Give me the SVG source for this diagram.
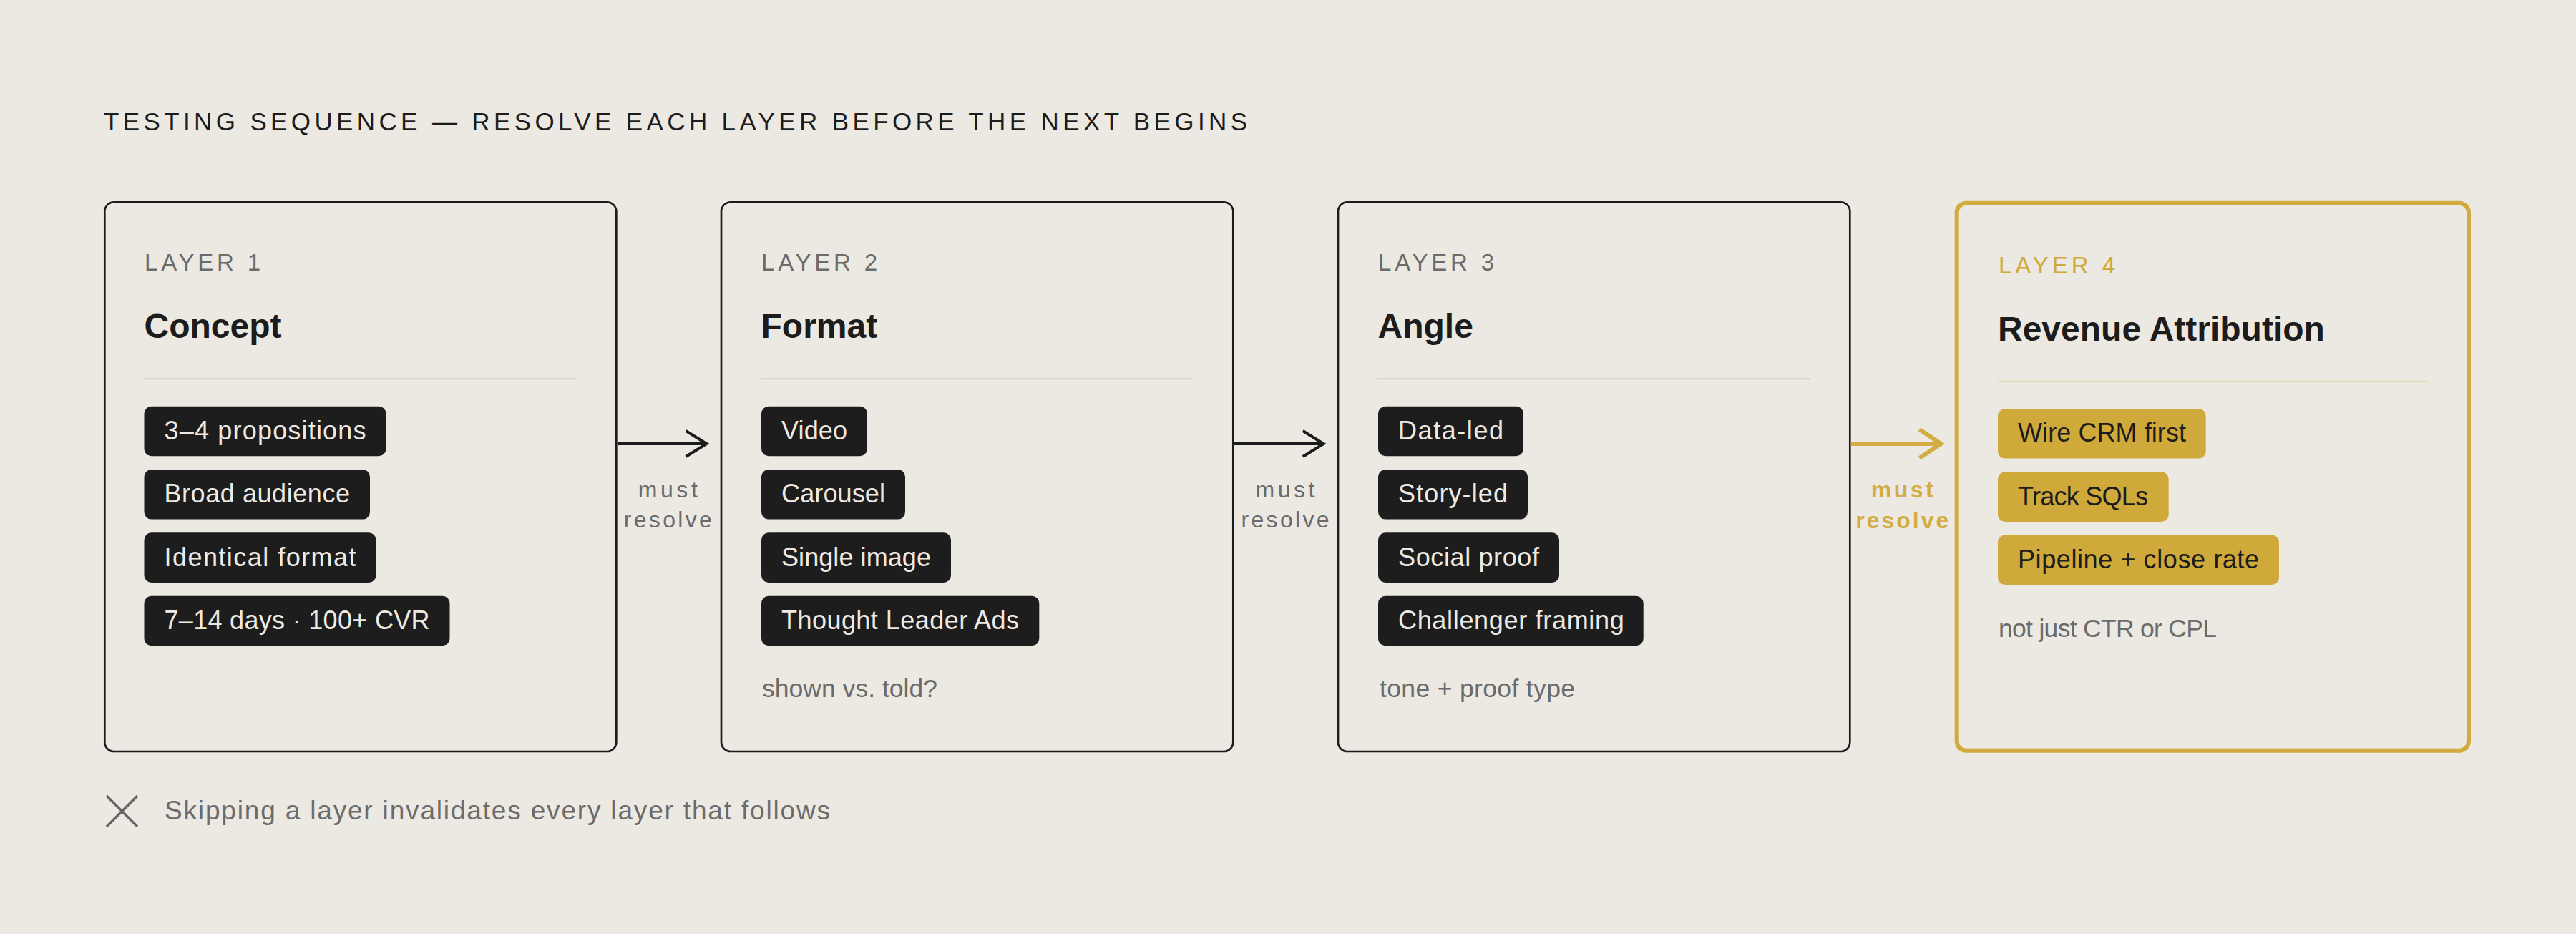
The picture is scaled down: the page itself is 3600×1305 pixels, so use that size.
<svg xmlns="http://www.w3.org/2000/svg" width="3600" height="1305" viewBox="0 0 3600 1305">
<style>
text { font-family: "Liberation Sans", Arial, sans-serif; }
.title { font-size: 35px; fill: #1C1C1C; }
.box { fill: none; stroke: #1C1C1C; stroke-width: 2.7; }
.box4 { fill: none; stroke: #D1AB3E; stroke-width: 6; }
.lbl { font-size: 33px; fill: #6B6B6B; }
.lbl4 { font-size: 33px; fill: #CFA93C; }
.h { font-size: 48px; font-weight: 700; fill: #1C1C1C; }
.div { stroke: #CFCBC3; stroke-width: 2; }
.div4 { stroke: #E4D5AA; stroke-width: 2; }
.chip { fill: #1D1D1D; }
.chipt { font-size: 36px; fill: #EEEAE3; }
.gchip { fill: #CFA93A; }
.gchipt { font-size: 36px; fill: #1C1C1C; }
.note { font-size: 35.5px; fill: #6B6B6B; }
.mr { font-size: 32px; fill: #6B6B6B; text-anchor: middle; }
.mr4 { font-size: 32px; fill: #D3AD44; font-weight: 700; text-anchor: middle; }
.conn { fill: none; stroke: #1C1C1C; stroke-width: 4; }
.conn4 { fill: none; stroke: #D3AD44; stroke-width: 6; }
.foot { font-size: 37px; fill: #6B6B6B; }
.x { stroke: #666666; stroke-width: 3.5; }
</style>
<defs>
<marker id="head" markerUnits="userSpaceOnUse" viewBox="-6 -6 44 48" markerWidth="44" markerHeight="48" refX="29" refY="18" orient="auto">
<path d="M0,0 L29,18 L0,36" fill="none" stroke="#1C1C1C" stroke-width="4"/>
</marker>
<marker id="head4" markerUnits="userSpaceOnUse" viewBox="-8 -8 50 56" markerWidth="50" markerHeight="56" refX="30" refY="20" orient="auto">
<path d="M0,0 L30,20 L0,40" fill="none" stroke="#D3AD44" stroke-width="6"/>
</marker>
</defs>
<rect x="0" y="0" width="3600" height="1305" fill="#ECE9E2"/>

<g id="title">
<text class="title" x="145" y="181.7" textLength="1598" lengthAdjust="spacing">TESTING SEQUENCE — RESOLVE EACH LAYER BEFORE THE NEXT BEGINS</text>
</g>

<g id="layer1">
<rect class="box" x="146.3" y="282.3" width="715" height="767.7" rx="13"/>
<text class="lbl" x="202" y="378.3" textLength="162" lengthAdjust="spacing">LAYER 1</text>
<text class="h" x="201.5" y="472">Concept</text>
<line class="div" x1="201" y1="529.3" x2="805" y2="529.3"/>
<rect class="chip" x="201.5" y="567.7" width="338" height="69.6" rx="10"/>
<text class="chipt" x="229.5" y="614" textLength="282" lengthAdjust="spacing">3–4 propositions</text>
<rect class="chip" x="201.5" y="656" width="315.5" height="69.6" rx="10"/>
<text class="chipt" x="229.5" y="702.3" textLength="259.5" lengthAdjust="spacing">Broad audience</text>
<rect class="chip" x="201.5" y="744.3" width="324" height="69.6" rx="10"/>
<text class="chipt" x="229.5" y="790.6" textLength="268" lengthAdjust="spacing">Identical format</text>
<rect class="chip" x="201.5" y="832.7" width="427" height="69.6" rx="10"/>
<text class="chipt" x="229.5" y="879" textLength="371" lengthAdjust="spacing">7–14 days · 100+ CVR</text>
</g>

<g id="layer2">
<rect class="box" x="1008" y="282.3" width="715.3" height="767.7" rx="13"/>
<text class="lbl" x="1064" y="378.3" textLength="162" lengthAdjust="spacing">LAYER 2</text>
<text class="h" x="1063.5" y="472">Format</text>
<line class="div" x1="1063" y1="529.3" x2="1667" y2="529.3"/>
<rect class="chip" x="1064" y="567.7" width="148" height="69.6" rx="10"/>
<text class="chipt" x="1092" y="614" textLength="92" lengthAdjust="spacing">Video</text>
<rect class="chip" x="1064" y="656" width="201" height="69.6" rx="10"/>
<text class="chipt" x="1092" y="702.3" textLength="145" lengthAdjust="spacing">Carousel</text>
<rect class="chip" x="1064" y="744.3" width="265" height="69.6" rx="10"/>
<text class="chipt" x="1092" y="790.6" textLength="209" lengthAdjust="spacing">Single image</text>
<rect class="chip" x="1064" y="832.7" width="388.3" height="69.6" rx="10"/>
<text class="chipt" x="1092" y="879" textLength="332" lengthAdjust="spacing">Thought Leader Ads</text>
<text class="note" x="1065" y="974" textLength="245" lengthAdjust="spacing">shown vs. told?</text>
</g>

<g id="layer3">
<rect class="box" x="1870" y="282.3" width="715.3" height="767.7" rx="13"/>
<text class="lbl" x="1926" y="378.3" textLength="162" lengthAdjust="spacing">LAYER 3</text>
<text class="h" x="1925.5" y="472">Angle</text>
<line class="div" x1="1925" y1="529.3" x2="2529" y2="529.3"/>
<rect class="chip" x="1926" y="567.7" width="203" height="69.6" rx="10"/>
<text class="chipt" x="1954" y="614" textLength="147" lengthAdjust="spacing">Data-led</text>
<rect class="chip" x="1926" y="656" width="209" height="69.6" rx="10"/>
<text class="chipt" x="1954" y="702.3" textLength="153" lengthAdjust="spacing">Story-led</text>
<rect class="chip" x="1926" y="744.3" width="253" height="69.6" rx="10"/>
<text class="chipt" x="1954" y="790.6" textLength="197" lengthAdjust="spacing">Social proof</text>
<rect class="chip" x="1926" y="832.7" width="370.7" height="69.6" rx="10"/>
<text class="chipt" x="1954" y="879" textLength="315.7" lengthAdjust="spacing">Challenger framing</text>
<text class="note" x="1928" y="974" textLength="273" lengthAdjust="spacing">tone + proof type</text>
</g>

<g id="layer4">
<rect class="box4" x="2734.7" y="283.7" width="715.3" height="765" rx="13"/>
<text class="lbl4" x="2793" y="381.8" textLength="163" lengthAdjust="spacing">LAYER 4</text>
<text class="h" x="2792" y="476">Revenue Attribution</text>
<line class="div4" x1="2792" y1="532.7" x2="3393" y2="532.7"/>
<rect class="gchip" x="2792" y="571" width="290.7" height="69.6" rx="10"/>
<text class="gchipt" x="2820" y="617.3" textLength="235" lengthAdjust="spacing">Wire CRM first</text>
<rect class="gchip" x="2792" y="659.3" width="238.7" height="69.6" rx="10"/>
<text class="gchipt" x="2820" y="705.6" textLength="182" lengthAdjust="spacing">Track SQLs</text>
<rect class="gchip" x="2792" y="747.5" width="393" height="69.6" rx="10"/>
<text class="gchipt" x="2820" y="793.8" textLength="337" lengthAdjust="spacing">Pipeline + close rate</text>
<text class="note" x="2793" y="890" textLength="305" lengthAdjust="spacing">not just CTR or CPL</text>
</g>

<g id="connectors">
<path class="conn" d="M862.7,620 L987.5,620" marker-end="url(#head)"/>
<text class="mr" x="933.3" y="695" textLength="83" lengthAdjust="spacing">must</text>
<text class="mr" x="933.3" y="736.7" textLength="123" lengthAdjust="spacing">resolve</text>
<path class="conn" d="M1724.7,620 L1849.8,620" marker-end="url(#head)"/>
<text class="mr" x="1796" y="695" textLength="83" lengthAdjust="spacing">must</text>
<text class="mr" x="1796" y="736.7" textLength="123" lengthAdjust="spacing">resolve</text>
<path class="conn4" d="M2586.7,620 L2712.5,620" marker-end="url(#head4)"/>
<text class="mr4" x="2658.3" y="695" textLength="86.7" lengthAdjust="spacing">must</text>
<text class="mr4" x="2658.3" y="738" textLength="130" lengthAdjust="spacing">resolve</text>
</g>

<g id="footer">
<line class="x" x1="149" y1="1112" x2="192" y2="1155"/>
<line class="x" x1="192" y1="1112" x2="149" y2="1155"/>
<text class="foot" x="230" y="1145" textLength="930" lengthAdjust="spacing">Skipping a layer invalidates every layer that follows</text>
</g>
</svg>
